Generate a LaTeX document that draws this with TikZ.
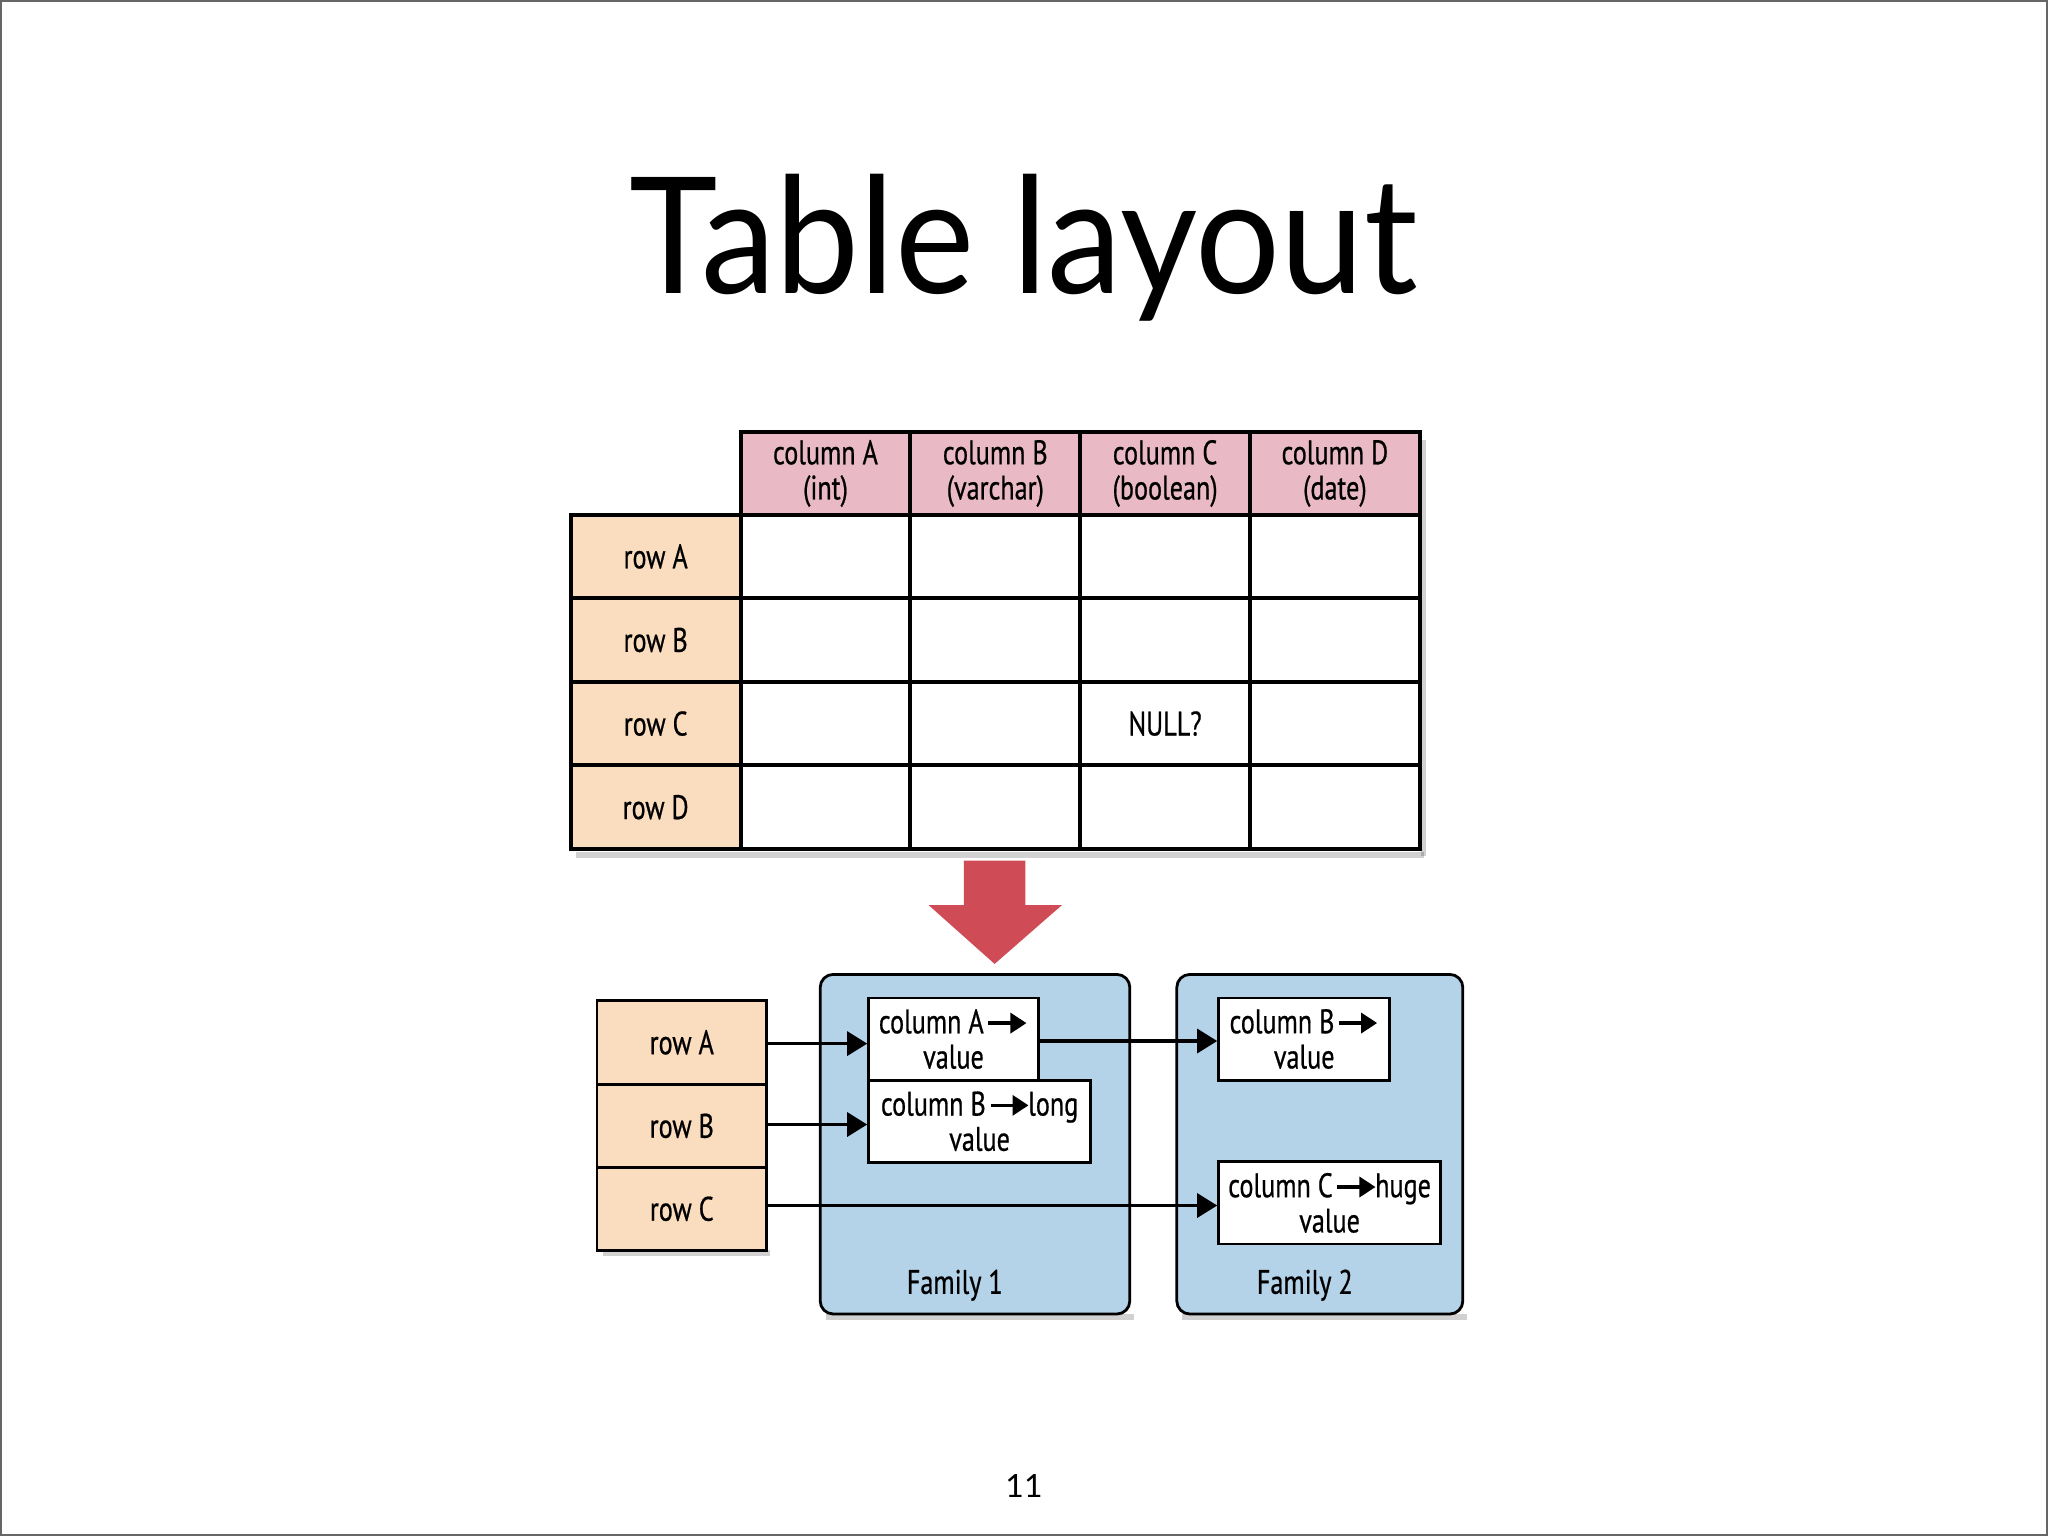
\documentclass[tikz,border=0pt]{standalone}
\usepackage{fontspec}
\setmainfont{Lato}
\newfontfamily\titlefont[FakeStretch=0.925]{Lato}
\newfontfamily\dfont[FakeStretch=0.77,FakeBold=0.6]{PT Sans}
\usetikzlibrary{arrows.meta}
\definecolor{hdrpink}{HTML}{E9BAC5}
\definecolor{roworange}{HTML}{FADDBF}
\definecolor{famblue}{HTML}{B4D3E9}
\definecolor{bigred}{HTML}{CF4B56}
\definecolor{frame}{HTML}{666666}
\newcommand{\inarr}{\tikz[baseline=-0.6ex]\draw[line width=1.7pt,-{Triangle[length=8pt,width=10pt]}] (0pt,0pt) -- (19pt,0pt);}
\tikzset{
  dtext/.style={font=\dfont\fontsize{17}{17.6}\selectfont, text=black, align=center, inner sep=0pt},
  hdr/.style={dtext, draw, line width=2pt, fill=hdrpink, minimum width=84.9pt, minimum height=41.2pt},
  rowlab/.style={dtext, draw, line width=2pt, fill=roworange, minimum width=84.9pt, minimum height=41.8pt},
  cell/.style={dtext, draw, line width=2pt, fill=white, minimum width=84.9pt, minimum height=41.8pt},
  brow/.style={dtext, draw, line width=1.4pt, fill=roworange, minimum width=84.9pt, minimum height=41.7pt},
  family/.style={draw, line width=1.4pt, fill=famblue, rounded corners=6.5pt, minimum height=169.8pt},
  valbox/.style={dtext, draw, line width=1.4pt, fill=white, minimum height=41.1pt},
  link/.style={line width=1.6pt, -{Triangle[length=10pt,width=12pt]}},
  shadowrect/.style={fill=black, opacity=0.18}
}
\begin{document}
\begin{tikzpicture}[x=0.5pt,y=-0.5pt]
\useasboundingbox (0,0) rectangle (2048,1536);
\fill[white] (0,0) rectangle (2048,1536);
\draw[frame, line width=1.2pt] (1,1) rectangle (2047,1535);

% title
\node[anchor=base, font=\titlefont\fontsize{81}{90}\selectfont, inner sep=0pt] (title) at (1024,293.9) {Table layout};

% table shadow
\fill[shadowrect] (576,852) rectangle (1424,858);
\fill[shadowrect] (1421,440) rectangle (1426,856);

% header row
\node[hdr] (hA) at (825.5,473.5) {column A\\(int)};
\node[hdr] (hB) at (995.3,473.5) {column B\\(varchar)};
\node[hdr] (hC) at (1165.1,473.5) {column C\\(boolean)};
\node[hdr] (hD) at (1334.9,473.5) {column D\\(date)};

% rows
\node[rowlab] (rA) at (655.7,556.4) {row A};
\node[rowlab] (rB) at (655.7,640.0) {row B};
\node[rowlab] (rC) at (655.7,723.6) {row C};
\node[rowlab] (rD) at (655.7,807.2) {row D};

\foreach \y/\r in {556.4/A,640.0/B,723.6/C,807.2/D}{
  \node[cell] (c\r1) at (825.5,\y) {};
  \node[cell] (c\r2) at (995.3,\y) {};
  \node[cell] (c\r4) at (1334.9,\y) {};
}
\node[cell] (cA3) at (1165.1,556.4) {};
\node[cell] (cB3) at (1165.1,640.0) {};
\node[cell] (cC3) at (1165.1,723.6) {NULL?};
\node[cell] (cD3) at (1165.1,807.2) {};

% red arrow
\fill[bigred] (963.9,860.7) -- (1025.3,860.7) -- (1025.3,905.1) -- (1061.9,905.1)
  -- (994.6,963.9) -- (928.6,905.1) -- (963.9,905.1) -- cycle;

% shadows bottom
\fill[shadowrect] (603,1250) rectangle (770,1256);
\fill[shadowrect] (826,1314) rectangle (1134,1320);
\fill[shadowrect] (1182,1314) rectangle (1467,1320);

% families
\node[family, minimum width=154.8pt] (fam1) at (975.0,1144.2) {};
\node[family, minimum width=143pt] (fam2) at (1319.8,1144.2) {};
\node[dtext] (fam1lab) at (954.8,1285.2) {Family 1};
\node[dtext] (fam2lab) at (1304.8,1285.2) {Family 2};

% bottom rows
\node[brow] (bA) at (681.8,1042.3) {row A};
\node[brow] (bB) at (681.8,1125.9) {row B};
\node[brow] (bC) at (681.8,1208.8) {row C};

% value boxes
\node[valbox, minimum width=84.9pt] (vA) at (953.5,1039.0) {column A\hspace{1.5pt}\inarr\\value};
\node[valbox, minimum width=111pt] (vB) at (979.6,1121.3) {column B\hspace{1.5pt}\inarr\hspace{-1pt}long\\value};
\node[valbox, minimum width=85.6pt] (wB) at (1304.2,1039.0) {column B\hspace{1.5pt}\inarr\\value};
\node[valbox, minimum width=111pt] (wC) at (1329.6,1202.9) {column C\hspace{1.5pt}\inarr\hspace{-1pt}huge\\value};

% links
\draw[link] (bA.east |- 0,1043.6) -- (vA.west |- 0,1043.6);
\draw[link] (bB.east |- 0,1124.5) -- (vB.west |- 0,1124.5);
\draw[link] (bC.east |- 0,1205.5) -- (wC.west |- 0,1205.5);
\draw[link] (vA.east |- 0,1041.0) -- (wB.west |- 0,1041.0);

% page number
\node[font=\fontsize{16}{18}\selectfont, inner sep=0pt] (pnum) at (1024,1486.3) {11};
\end{tikzpicture}
\end{document}
